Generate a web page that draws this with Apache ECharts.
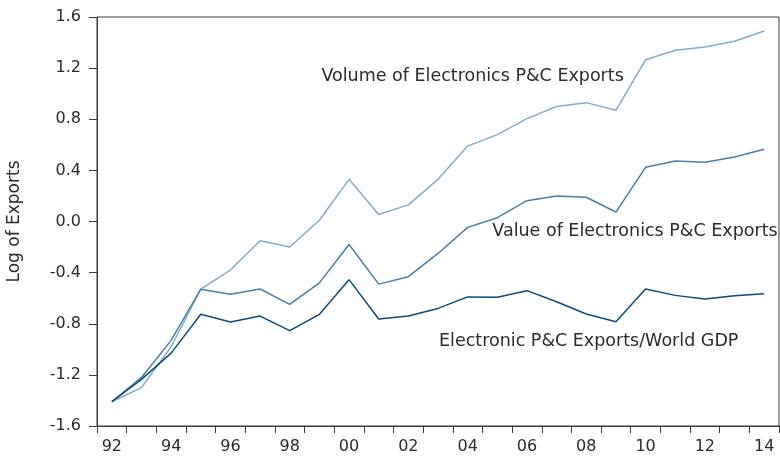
<!DOCTYPE html>
<html>
<head>
<meta charset="utf-8">
<script src="https://cdn.jsdelivr.net/npm/echarts@6/dist/echarts.min.js"></script>
<style>
  html, body { margin: 0; padding: 0; background: #fff; }
  #chart { width: 780px; height: 457px; }
</style>
</head>
<body>
<div id="chart"></div>
<script>
// Years on the horizontal axis
const years = ['1992','1993','1994','1995','1996','1997','1998','1999','2000','2001','2002',
               '2003','2004','2005','2006','2007','2008','2009','2010','2011','2012','2013','2014'];

// Log of exports, three measures
const volumeExports = [-1.41, -1.30, -0.98, -0.53, -0.38, -0.15, -0.20, 0.01, 0.33, 0.055, 0.13,
                       0.33, 0.59, 0.68, 0.805, 0.90, 0.93, 0.87, 1.265, 1.34, 1.365, 1.41, 1.49];
const valueExports  = [-1.41, -1.22, -0.93, -0.53, -0.57, -0.528, -0.648, -0.48, -0.18, -0.49, -0.432,
                       -0.25, -0.046, 0.03, 0.163, 0.20, 0.19, 0.074, 0.424, 0.473, 0.463, 0.505, 0.565];
const gdpShare      = [-1.41, -1.235, -1.03, -0.726, -0.787, -0.74, -0.854, -0.726, -0.455, -0.763, -0.74,
                       -0.68, -0.59, -0.593, -0.541, -0.628, -0.724, -0.784, -0.528, -0.578, -0.607, -0.58, -0.565];

// Series names, also used as in-plot labels
const seriesNames = ['Volume of Electronics P&C Exports',
                     'Value of Electronics P&C Exports',
                     'Electronic P&C Exports/World GDP'];
// Where each in-plot label is anchored: [year, value]
const labelAnchors = [['1999', 1.138], ['2005', -0.078], ['2003', -0.935]];
const labelOffsets = [[2, 0], [-5, 0], [1, 0]];

const yTicks = { min: -1.6, max: 1.6, interval: 0.4 };

const FONT = 'DejaVu Sans';
const TEXT = '#2b2b2b';
const colors = ['#87abc7', '#4a7eab', '#0c4a7e'];

function makeSeries(i, data) {
  return {
    name: seriesNames[i],
    type: 'line',
    data: data,
    symbol: 'none',
    smooth: false,
    lineStyle: { color: colors[i], width: 1.5 },
    z: 2 + i,
    markPoint: {
      symbol: 'circle',
      symbolSize: 0,
      silent: true,
      label: {
        show: true,
        position: 'inside',
        align: 'left',
        verticalAlign: 'middle',
        offset: labelOffsets[i],
        formatter: seriesNames[i],
        color: TEXT,
        fontFamily: FONT,
        fontSize: 17.5
      },
      data: [{ coord: labelAnchors[i], value: 0 }]
    }
  };
}

const chart = echarts.init(document.getElementById('chart'), null, { renderer: 'canvas' });
chart.setOption({
  animation: false,
  backgroundColor: '#fff',
  grid: {
    left: 97, right: 1, top: 17, bottom: 31,
    outerBoundsMode: 'none',
    containLabel: false,
    show: true, borderColor: '#3a3a3a', borderWidth: 1, backgroundColor: 'transparent'
  },
  xAxis: {
    type: 'category',
    data: years,
    boundaryGap: true,
    axisLine: { show: true, onZero: false, lineStyle: { color: '#3a3a3a', width: 1 } },
    axisTick: { show: true, inside: false, length: 7, interval: 0, alignWithLabel: false,
                lineStyle: { color: '#3a3a3a', width: 1 } },
    axisLabel: {
      interval: 1,
      margin: 13,
      color: TEXT,
      fontFamily: FONT,
      fontSize: 16,
      formatter: v => v.slice(2)
    },
    splitLine: { show: false }
  },
  yAxis: {
    type: 'value',
    min: yTicks.min,
    max: yTicks.max,
    interval: yTicks.interval,
    name: 'Log of Exports',
    nameLocation: 'middle',
    nameGap: 74,
    nameTextStyle: { color: TEXT, fontFamily: FONT, fontSize: 17 },
    axisLine: { show: true, onZero: false, lineStyle: { color: '#3a3a3a', width: 1 } },
    axisTick: { show: true, inside: false, length: 8, lineStyle: { color: '#3a3a3a', width: 1 } },
    axisLabel: {
      margin: 16,
      color: TEXT,
      fontFamily: FONT,
      fontSize: 16,
      formatter: v => v.toFixed(1)
    },
    splitLine: { show: false }
  },
  series: [
    makeSeries(0, volumeExports),
    makeSeries(1, valueExports),
    makeSeries(2, gdpShare)
  ]
});
</script>
</body>
</html>
